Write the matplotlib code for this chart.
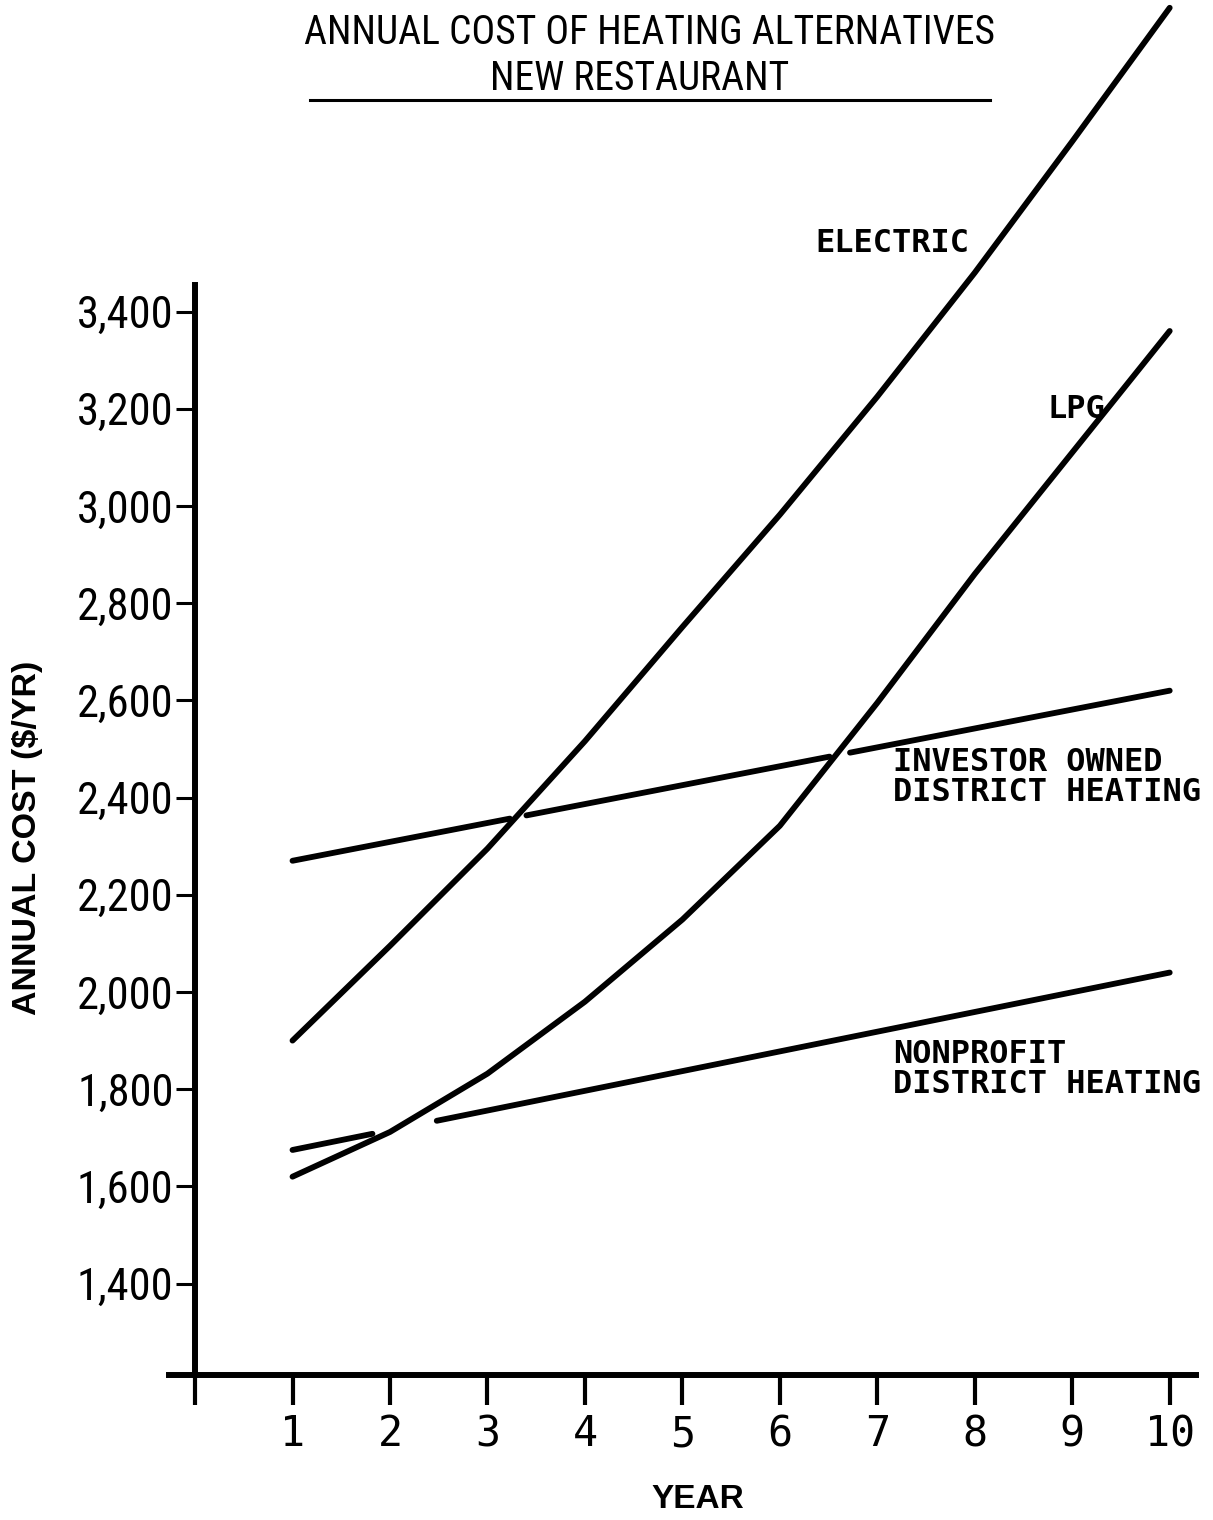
import matplotlib
matplotlib.use('Agg')
import matplotlib.pyplot as plt
import numpy as np

# values
years = [1, 2, 3, 4, 5, 6, 7, 8, 9, 10]
electric = [1900, 2095, 2295, 2516, 2751, 2982, 3225, 3480, 3750, 4025]
lpg = [1620, 1712, 1832, 1980, 2149, 2342, 2595, 2860, 3110, 3360]
# the two district heating lines are straight: first and last year
investor_years = [1, 10]
investor = [2270, 2620]
nonprofit_years = [1, 10]
nonprofit = [1675, 2040]

ytick_vals = [1400, 1600, 1800, 2000, 2200, 2400, 2600, 2800, 3000, 3200, 3400]
ytick_labels = ['1,400', '1,600', '1,800', '2,000', '2,200', '2,400',
                '2,600', '2,800', '3,000', '3,200', '3,400']
xtick_vals = [0, 1, 2, 3, 4, 5, 6, 7, 8, 9, 10]
xtick_labels = ['', '1', '2', '3', '4', '5', '6', '7', '8', '9', '10']

# where the drawn line is broken at a crossing
investor_gaps = [(3.23, 3.40), (6.51, 6.72)]
nonprofit_gaps = [(1.82, 2.48)]

narrow = ['Liberation Sans Narrow', 'Roboto Condensed', 'DejaVu Sans']
mono = ['DejaVu Sans Mono']
bold_sans = ['Liberation Sans', 'DejaVu Sans']

LW = 4.2


def draw_broken(ax, xs, ys, gaps):
    starts = [xs[0]] + [g[1] for g in gaps]
    ends = [g[0] for g in gaps] + [xs[-1]]
    for a, b in zip(starts, ends):
        seg_x = [a, b]
        seg_y = np.interp(seg_x, xs, ys)
        ax.plot(seg_x, seg_y, color='black', lw=LW, solid_capstyle='round')


fig = plt.figure(figsize=(12.13, 15.2), dpi=100)
ax = fig.add_axes([0.1391, 0.0954, 0.8469, 0.9046])
ax.set_xlim(-0.27, 10.27)
ax.set_ylim(1212, 4041)

ax.plot(years, electric, color='black', lw=LW, solid_capstyle='round')
ax.plot(years, lpg, color='black', lw=LW, solid_capstyle='round')
draw_broken(ax, investor_years, investor, investor_gaps)
draw_broken(ax, nonprofit_years, nonprofit, nonprofit_gaps)

for s in ['top', 'right']:
    ax.spines[s].set_visible(False)
ax.spines['left'].set_position(('data', 0))
ax.spines['left'].set_bounds(1212, 3455)
ax.spines['left'].set_linewidth(4.3)
ax.spines['bottom'].set_linewidth(4.3)

ax.set_yticks(ytick_vals)
ax.set_yticklabels(ytick_labels, family=narrow, fontsize=32)
ax.set_xticks(xtick_vals)
ax.set_xticklabels(xtick_labels, family=mono, fontsize=30)
ax.tick_params(axis='y', direction='out', length=14, width=2.2, pad=1.5)
ax.tick_params(axis='x', direction='out', length=21.5, width=3, pad=6)

# curve labels
ax.text(6.36, 3539, 'ELECTRIC', family=mono, fontsize=23, weight='bold', va='center')
ax.text(8.75, 3198, 'LPG', family=mono, fontsize=23, weight='bold', va='center')
ax.text(7.16, 2442, 'INVESTOR OWNED\nDISTRICT HEATING', family=mono, fontsize=23,
        weight='bold', va='center', linespacing=0.95)
ax.text(7.16, 1840, 'NONPROFIT\nDISTRICT HEATING', family=mono, fontsize=23,
        weight='bold', va='center', linespacing=0.95)

# title block
fig.text(649 / 1213, 1 - 33 / 1520, 'ANNUAL COST OF HEATING ALTERNATIVES', family=narrow,
         fontsize=28.5, ha='center', va='center')
fig.text(640 / 1213, 1 - 78 / 1520, 'NEW RESTAURANT', family=narrow,
         fontsize=28.5, ha='center', va='center')
fig.add_artist(plt.Line2D([310 / 1213, 990 / 1213], [1 - 100 / 1520, 1 - 100 / 1520],
                          color='black', lw=2.2))

fig.text(28 / 1213, 1 - 838 / 1520, 'ANNUAL COST ($/YR)', family=bold_sans, weight='bold',
         fontsize=24.5, rotation=90, ha='center', va='center')
fig.text(698 / 1213, 1 - 1500 / 1520, 'YEAR', family=bold_sans, weight='bold',
         fontsize=24, ha='center', va='center')

fig.savefig('out.png', dpi=100, facecolor='white')
